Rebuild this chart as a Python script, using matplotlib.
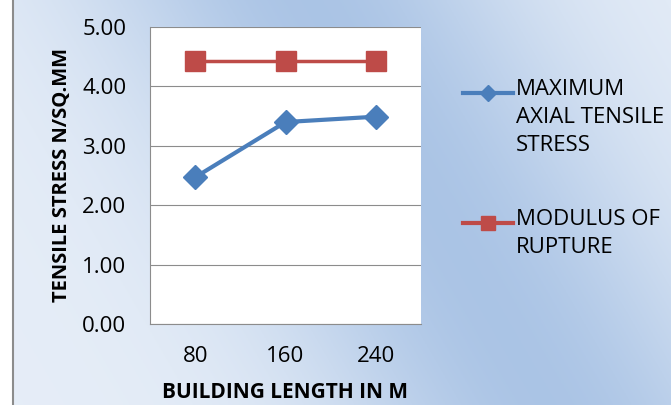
import matplotlib.pyplot as plt
import numpy as np
from matplotlib.lines import Line2D

plt.rcParams["font.family"] = ["Open Sans", "DejaVu Sans"]

lengths = ["80", "160", "240"]
axial_stress = [2.47, 3.40, 3.49]
rupture = [4.43, 4.43, 4.43]
yticks = [0.0, 1.0, 2.0, 3.0, 4.0, 5.0]
legend_labels = ["MAXIMUM\nAXIAL TENSILE\nSTRESS", "MODULUS OF\nRUPTURE"]

blue = "#4a7ebb"
red = "#be4b48"

W, H = 671, 405
fig = plt.figure(figsize=(W / 100, H / 100), dpi=100)

# background gradient
bg = fig.add_axes([0, 0, 1, 1], zorder=-10)
xx, yy = np.meshgrid(np.linspace(0, 1, 300), np.linspace(0, 1, 200))
band = np.exp(-((xx - 0.64 - (yy - 0.5) * 0.35) / 0.33) ** 2)
light = np.array([0.90, 0.93, 0.97])
dark = np.array([0.67, 0.77, 0.90])
img = light[None, None, :] * (1 - band[..., None]) + dark[None, None, :] * band[..., None]
bg.imshow(img, aspect="auto", extent=[0, 1, 0, 1], origin="upper")
bg.axvline(13 / W, color="#8c8c8c", lw=1.5)
bg.fill_betweenx([0, 1], 0, 12 / W, color="white")
bg.set_xlim(0, 1)
bg.set_ylim(0, 1)
bg.axis("off")

ax = fig.add_axes([150 / W, 1 - 324 / H, 271 / W, 297 / H])
ax.set_facecolor("white")
x = np.arange(len(lengths))
ax.plot(x, axial_stress, color=blue, lw=3, marker="D", ms=12, zorder=3)
ax.plot(x, rupture, color=red, lw=2.5, marker="s", ms=14, zorder=3)

ax.set_xlim(-0.5, 2.5)
ax.set_ylim(0, 5)
ax.set_yticks(yticks)
ax.set_yticklabels([f"{v:.2f}" for v in yticks], fontsize=16)
ax.set_xticks(x)
ax.set_xticklabels(lengths, fontsize=16)
ax.tick_params(axis="y", length=0, pad=17)
ax.tick_params(axis="x", length=0, pad=16)
ax.yaxis.grid(True, color="#8c8c8c", lw=0.8)
ax.set_axisbelow(True)
for s in ax.spines.values():
    s.set_color("#8c8c8c")
ax.spines["top"].set_visible(False)
ax.spines["right"].set_visible(False)

fig.text(285 / W, 1 - 393 / H, "BUILDING LENGTH IN M", fontsize=15,
         fontweight="bold", ha="center", va="center")
fig.text(62 / W, 1 - 175 / H, "TENSILE STRESS N/SQ.MM", fontsize=14.5,
         fontweight="bold", ha="center", va="center", rotation=90)

# legend drawn by hand so the key sits on the first text line
for (ly, color, mk, ms), label in zip([(93, blue, "D", 8), (223, red, "s", 10)], legend_labels):
    yf = 1 - ly / H
    fig.add_artist(Line2D([463 / W, 513 / W], [yf, yf], color=color, lw=3,
                          transform=fig.transFigure))
    fig.add_artist(Line2D([488 / W], [yf], color=color, marker=mk, ms=ms,
                          transform=fig.transFigure))
    fig.text(516 / W, yf + 14 / H, label, fontsize=16, ha="left", va="top",
             linespacing=1.45)

fig.savefig("out.png", dpi=100)
